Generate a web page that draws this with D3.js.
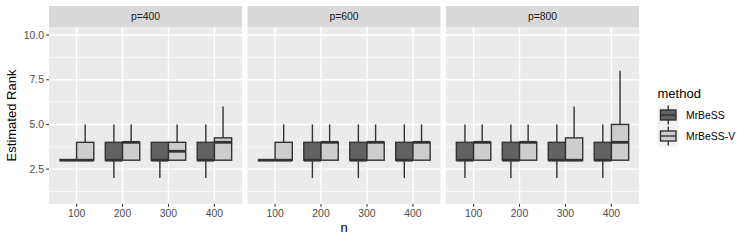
<!DOCTYPE html>
<html>
<head>
<meta charset="utf-8">
<script src="https://cdn.jsdelivr.net/npm/d3@7/dist/d3.min.js"></script>
<style>
  body { margin: 0; background: #ffffff; }
  svg { display: block; font-family: "Liberation Sans", Arial, sans-serif; }
</style>
</head>
<body>
<svg id="chart" width="747" height="242"></svg>
<script>
// ---- data ----
const panels = ["p=400", "p=600", "p=800"];
const nLevels = ["100", "200", "300", "400"];
const methods = ["MrBeSS", "MrBeSS-V"];
const yTicks = [2.5, 5.0, 7.5, 10.0];
const yMinorTicks = [1.25, 3.75, 6.25, 8.75];

// indexed [panel][n]
const mrbessMin = [[3, 2, 2, 2], [3, 2, 2, 2], [2, 2, 2, 2]];
const mrbessQ1  = [[3, 3, 3, 3], [3, 3, 3, 3], [3, 3, 3, 3]];
const mrbessMed = [[3, 3, 3, 3], [3, 3, 3, 3], [3, 3, 3, 3]];
const mrbessQ3  = [[3, 4, 4, 4], [3, 4, 4, 4], [4, 4, 4, 4]];
const mrbessMax = [[3, 5, 4, 5], [3, 5, 5, 5], [5, 5, 5, 5]];

const mrbessVMin = [[3, 3, 3, 3], [3, 3, 3, 3], [3, 3, 3, 3]];
const mrbessVQ1  = [[3, 3, 3, 3], [3, 3, 3, 3], [3, 3, 3, 3]];
const mrbessVMed = [[3, 4, 3.5, 4], [3, 4, 4, 4], [4, 4, 3, 4]];
const mrbessVQ3  = [[4, 4, 4, 4.25], [4, 4, 4, 4], [4, 4, 4.25, 5]];
const mrbessVMax = [[5, 5, 5, 6], [5, 5, 5, 5], [5, 5, 6, 8]];

const stats = {
  "MrBeSS":   { min: mrbessMin, q1: mrbessQ1, med: mrbessMed, q3: mrbessQ3, max: mrbessMax },
  "MrBeSS-V": { min: mrbessVMin, q1: mrbessVQ1, med: mrbessVMed, q3: mrbessVQ3, max: mrbessVMax }
};

// ---- layout ----
const svg = d3.select("#chart");
const panelLeft = 49, panelRight = 639, panelGap = 5.5;
const panelW = (panelRight - panelLeft - panelGap * 2) / 3;
const panelTop = 27, panelBottom = 204, stripTop = 6;

const fill = d3.scaleOrdinal().domain(methods).range(["#626262", "#cdcdcd"]);
const y = d3.scaleLinear().domain([0.55, 10.45]).range([panelBottom, panelTop]);
const x = d3.scalePoint().domain(nLevels).range([0, panelW]).padding(0.6);
const step = x.step();
const dodge = d3.scaleBand().domain(methods).range([-0.375 * step, 0.375 * step]);

panels.forEach((p, pi) => {
  const px = panelLeft + pi * (panelW + panelGap);
  const g = svg.append("g").attr("transform", `translate(${px},0)`);

  // strip
  g.append("rect").attr("x", 0).attr("y", stripTop).attr("width", panelW)
    .attr("height", panelTop - stripTop).attr("fill", "#d9d9d9");
  g.append("text").attr("x", panelW / 2).attr("y", (stripTop + panelTop) / 2)
    .attr("dy", "0.35em").attr("text-anchor", "middle")
    .attr("font-size", 10.4).attr("fill", "#1a1a1a").text(p);

  // panel bg
  g.append("rect").attr("x", 0).attr("y", panelTop).attr("width", panelW)
    .attr("height", panelBottom - panelTop).attr("fill", "#ebebeb");

  // grid
  g.selectAll(".ymin").data(yMinorTicks).join("line")
    .attr("x1", 0).attr("x2", panelW).attr("y1", d => y(d)).attr("y2", d => y(d))
    .attr("stroke", "#ffffff").attr("stroke-width", 0.7);
  g.selectAll(".ymaj").data(yTicks).join("line")
    .attr("x1", 0).attr("x2", panelW).attr("y1", d => y(d)).attr("y2", d => y(d))
    .attr("stroke", "#ffffff").attr("stroke-width", 1.4);
  g.selectAll(".xmaj").data(nLevels).join("line")
    .attr("x1", d => x(d)).attr("x2", d => x(d)).attr("y1", panelTop).attr("y2", panelBottom)
    .attr("stroke", "#ffffff").attr("stroke-width", 1.4);

  // boxes
  methods.forEach(m => {
    const s = stats[m];
    nLevels.forEach((n, ni) => {
      const cx = x(n) + dodge(m) + dodge.bandwidth() / 2;
      const bw = dodge.bandwidth();
      const bg = g.append("g");
      // whiskers
      bg.append("line").attr("x1", cx).attr("x2", cx)
        .attr("y1", y(s.q3[pi][ni])).attr("y2", y(s.max[pi][ni]))
        .attr("stroke", "#333333").attr("stroke-width", 1.4);
      bg.append("line").attr("x1", cx).attr("x2", cx)
        .attr("y1", y(s.q1[pi][ni])).attr("y2", y(s.min[pi][ni]))
        .attr("stroke", "#333333").attr("stroke-width", 1.4);
      // box
      bg.append("rect").attr("x", cx - bw / 2).attr("width", bw)
        .attr("y", y(s.q3[pi][ni])).attr("height", y(s.q1[pi][ni]) - y(s.q3[pi][ni]))
        .attr("fill", fill(m)).attr("stroke", "#333333").attr("stroke-width", 1.4);
      // median
      bg.append("line").attr("x1", cx - bw / 2).attr("x2", cx + bw / 2)
        .attr("y1", y(s.med[pi][ni])).attr("y2", y(s.med[pi][ni]))
        .attr("stroke", "#333333").attr("stroke-width", 2.8);
    });
  });

  // x axis
  const xa = g.append("g");
  nLevels.forEach(n => {
    xa.append("line").attr("x1", x(n)).attr("x2", x(n))
      .attr("y1", panelBottom).attr("y2", panelBottom + 2.8)
      .attr("stroke", "#333333").attr("stroke-width", 1.1);
    xa.append("text").attr("x", x(n)).attr("y", panelBottom + 13)
      .attr("text-anchor", "middle").attr("font-size", 10.4).attr("fill", "#4d4d4d").text(n);
  });
});

// y axis
const ya = svg.append("g");
yTicks.forEach(t => {
  ya.append("line").attr("x1", panelLeft - 2.8).attr("x2", panelLeft)
    .attr("y1", y(t)).attr("y2", y(t)).attr("stroke", "#333333").attr("stroke-width", 1.1);
  ya.append("text").attr("x", panelLeft - 5).attr("y", y(t)).attr("dy", "0.35em")
    .attr("text-anchor", "end").attr("font-size", 10.4).attr("fill", "#4d4d4d")
    .text(d3.format(".1f")(t));
});

// axis titles
svg.append("text").attr("transform", `translate(16,${(panelTop + panelBottom) / 2}) rotate(-90)`)
  .attr("text-anchor", "middle").attr("font-size", 13).attr("fill", "#000").text("Estimated Rank");
svg.append("text").attr("x", (panelLeft + panelRight) / 2).attr("y", 232)
  .attr("text-anchor", "middle").attr("font-size", 13).attr("fill", "#000").text("n");

// legend
const lg = svg.append("g").attr("transform", "translate(657.5,0)");
lg.append("text").attr("x", 0).attr("y", 97.5).attr("font-size", 13).attr("fill", "#000").text("method");
const keyH = 21, keyW = 21.5, keyTop = 104.5;
methods.forEach((m, i) => {
  const ky = keyTop + i * keyH;
  const k = lg.append("g").attr("transform", `translate(0,${ky})`);
  k.append("rect").attr("width", keyW).attr("height", keyH).attr("fill", "#f2f2f2");
  const cx = keyW / 2;
  k.append("line").attr("x1", cx).attr("x2", cx).attr("y1", 1).attr("y2", 20)
    .attr("stroke", "#333333").attr("stroke-width", 1.4);
  k.append("rect").attr("x", 3).attr("width", keyW - 6).attr("y", 5.5).attr("height", 10)
    .attr("fill", fill(m)).attr("stroke", "#333333").attr("stroke-width", 1.4);
  k.append("line").attr("x1", 3).attr("x2", keyW - 3).attr("y1", 10.5).attr("y2", 10.5)
    .attr("stroke", "#333333").attr("stroke-width", 1.4);
  lg.append("text").attr("x", 28.5).attr("y", ky + keyH / 2).attr("dy", "0.35em")
    .attr("font-size", 10.4).attr("fill", "#000").text(m);
});
</script>
</body>
</html>
